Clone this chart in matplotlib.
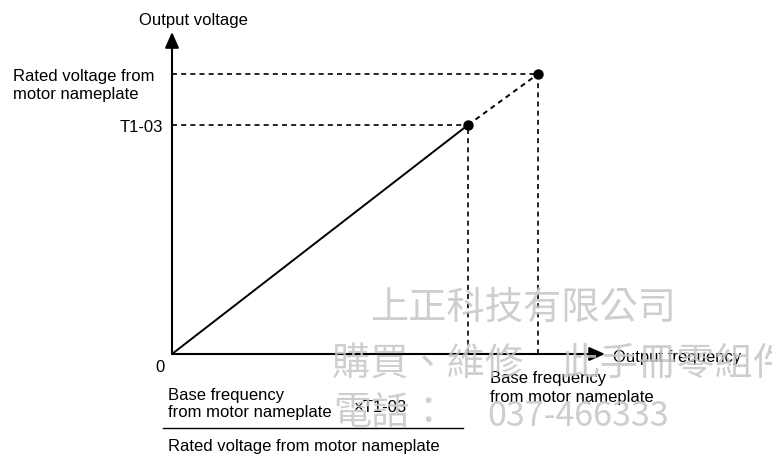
import matplotlib
matplotlib.use("Agg")
import matplotlib.pyplot as plt

# ---- data (arbitrary units) ----
freq_points = [0, 296, 366]      # origin, T1-03 point, rated point (frequency)
volt_points = [0, 229, 280]      # origin, T1-03, rated voltage
axis_x_max = 433
axis_y_max = 322
y_labels = ["Rated voltage from\nmotor nameplate", "T1-03"]
x_label_text = "Output frequency"
y_label_text = "Output voltage"
watermark_lines = ["上正科技有限公司", "購買、維修　此手冊零組件", "電話：", "037-466333"]

plt.rcParams['font.family'] = ['Liberation Sans', 'DejaVu Sans']

fig = plt.figure(figsize=(7.72, 4.56), dpi=100)
ax = fig.add_axes([0, 0, 1, 1])
ax.set_xlim(-172, 600)
ax.set_ylim(-101, 355)
ax.axis('off')

fs = 12

# axes arrows
arrow_kw = dict(arrowstyle='-|>,head_length=0.95,head_width=0.42', mutation_scale=10,
                lw=1.5, color='black', shrinkA=0, shrinkB=0)
ax.annotate('', xy=(0, axis_y_max), xytext=(0, 0), arrowprops=arrow_kw)
ax.annotate('', xy=(axis_x_max, 0), xytext=(0, 0), arrowprops=arrow_kw)

# V/f line
ax.plot(freq_points[:2], volt_points[:2], color='black', lw=1.4, solid_capstyle='butt')
ax.plot(freq_points[1:], volt_points[1:], color='black', lw=1.4, ls=(0, (2.6, 2.2)))
ax.plot(freq_points[1:], volt_points[1:], 'o', color='black', ms=6.5)

# guide lines
for f, v in zip(freq_points[1:], volt_points[1:]):
    ax.plot([0, f], [v, v], color='black', lw=1.2, ls=(0, (3, 2.5)))
    ax.plot([f, f], [0, v], color='black', lw=1.2, ls=(0, (3, 2.5)))

# labels
ax.text(21, 335, y_label_text, fontsize=fs, ha='center', va='center')
ax.text(-159, volt_points[2] - 10, y_labels[0], fontsize=fs, ha='left', va='center',
        linespacing=1.25)
ax.text(-9, volt_points[1] - 1, y_labels[1], fontsize=fs, ha='right', va='center')
ax.text(-12, -13, "0", fontsize=fs, ha='center', va='center')
ax.text(441, -3, x_label_text, fontsize=fs, ha='left', va='center')
ax.text(318, -33, "Base frequency\nfrom motor nameplate", fontsize=fs, ha='left',
        va='center', linespacing=1.3)

# formula
ax.text(-4, -49, "Base frequency\nfrom motor nameplate", fontsize=fs, ha='left',
        va='center', linespacing=1.1)
ax.text(182, -53, "×T1-03", fontsize=fs, ha='left', va='center')
ax.plot([-9, 291], [-74, -74], color='black', lw=1.0)
ax.text(-4, -92, "Rated voltage from motor nameplate", fontsize=fs, ha='left', va='center')

# watermark
wm_kw = dict(color='#c6c6c6', alpha=0.85, zorder=10, family=['Noto Sans CJK TC', 'DejaVu Sans'],
             fontweight='light', ha='left', va='center')
ax.text(198, 47, watermark_lines[0], fontsize=27.5, **wm_kw)
ax.text(160, -9, watermark_lines[1], fontsize=27.5, **wm_kw)
ax.text(161, -59, watermark_lines[2], fontsize=27.5, **wm_kw)
ax.text(315, -62, watermark_lines[3], fontsize=24.5, **wm_kw)

fig.savefig("out.png", dpi=100)
